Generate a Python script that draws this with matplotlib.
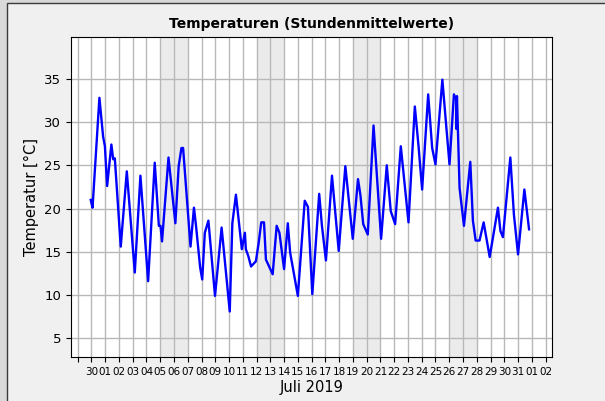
import numpy as np
import pandas as pd
import matplotlib
matplotlib.use("Agg")
import matplotlib.pyplot as plt
from matplotlib.patches import Rectangle


# Stuetzpunkte der Kurve: Tage seit 29.06.2019 00:00 und Temperatur in °C
tage = [0.95, 1.08, 1.58, 1.85, 1.98, 2.14, 2.45, 2.58, 2.70, 3.13,
        3.57, 4.15, 4.56, 5.12, 5.60, 5.90, 6.02, 6.13, 6.60, 7.10,
        7.34, 7.54, 7.66, 8.20, 8.45, 8.60, 8.90, 9.05, 9.24, 9.50,
        9.98, 10.46, 11.05, 11.24, 11.50, 11.80, 11.93, 12.15, 12.22, 12.40,
        12.60, 12.95, 13.15, 13.34, 13.54, 13.68, 14.17, 14.46, 14.66, 15.00,
        15.27, 15.44, 16.00, 16.50, 16.73, 17.05, 17.55, 17.75, 18.04, 18.48,
        18.97, 19.45, 19.99, 20.37, 20.55, 20.75, 21.08, 21.50, 22.05, 22.46,
        22.75, 23.07, 23.48, 24.04, 24.50, 24.77, 25.03, 25.47, 25.76, 26.00,
        26.50, 26.80, 27.02, 27.34, 27.50, 27.52, 27.56, 27.75, 28.07, 28.53,
        28.72, 28.92, 29.20, 29.50, 29.94, 30.54, 30.72, 30.90, 31.44, 31.70,
        32.00, 32.46, 32.80]
temp = [21.0, 20.1, 32.8, 28.3, 27.2, 22.6, 27.4, 25.7, 25.8, 15.6,
        24.3, 12.6, 23.8, 11.6, 25.3, 18.0, 18.0, 16.2, 25.9, 18.3,
        24.9, 27.0, 27.0, 15.6, 20.1, 18.0, 13.2, 11.8, 17.2, 18.6,
        9.9, 17.8, 8.1, 18.3, 21.6, 17.2, 15.3, 17.2, 15.3, 14.5,
        13.3, 13.9, 16.0, 18.4, 18.4, 14.1, 12.4, 18.0, 17.2, 13.0,
        18.3, 14.9, 9.9, 20.9, 20.2, 10.1, 21.7, 18.0, 14.0, 23.8,
        15.1, 24.9, 16.5, 23.4, 21.5, 18.2, 17.0, 29.6, 16.5, 25.0,
        19.7, 18.2, 27.2, 18.4, 31.8, 27.2, 22.2, 33.2, 27.0, 25.1,
        34.9, 29.2, 25.1, 33.2, 32.6, 29.2, 33.0, 22.4, 18.0, 25.4,
        18.6, 16.3, 16.3, 18.4, 14.4, 20.1, 17.4, 16.7, 25.9, 19.3,
        14.7, 22.2, 17.6]

# grau hinterlegte Bereiche (Tage seit 29.06.)
wochenenden = [(6, 8), (13, 15), (20, 22), (27, 29)]

# Tick-Beschriftungen der x-Achse (29.06. bis 02.08.)
tick_labels = [""] + ["30"] + ["%02d" % d for d in range(1, 32)] + ["01", "02"]
y_ticks = [5, 10, 15, 20, 25, 30, 35]

start = pd.Timestamp("2019-06-29")
zeit = start + pd.to_timedelta(tage, unit="D")
tick_pos = start + pd.to_timedelta(np.arange(len(tick_labels)), unit="D")

plt.rcParams.update({
    'font.family': 'DejaVu Sans',
    'axes.titlesize': 10,
    'axes.labelsize': 10.5,
})

fig = plt.figure(figsize=(6.05, 4.01), dpi=100)
fig.patch.set_facecolor('#d9d9d9')
# Fensterrahmen
fig.patches.append(Rectangle((7 / 605, -0.1), 1.2, 1.1 - 3 / 401,
                             transform=fig.transFigure, facecolor='#f0f0f0',
                             edgecolor='#3a3a3a', linewidth=1.0, zorder=-10))

ax = fig.add_axes([0.117, 0.109, 0.795, 0.798])
ax.set_facecolor('white')

for a, b in wochenenden:
    ax.axvspan(start + pd.Timedelta(days=a), start + pd.Timedelta(days=b),
               color='#ebebeb', linewidth=0, zorder=0)

ax.plot(zeit, temp, color='blue', linewidth=1.7, zorder=3)

ax.set_xticks(tick_pos)
ax.set_xticklabels(tick_labels, fontsize=7.5)
ax.set_yticks(y_ticks)
ax.tick_params(axis='y', labelsize=9.5)
ax.set_xlim(start - pd.Timedelta(days=0.5), start + pd.Timedelta(days=34.45))
ax.set_ylim(2.8, 39.8)
ax.grid(True, color='#b8b8b8', linewidth=1.0, zorder=1)
ax.set_axisbelow(True)

ax.set_title("Temperaturen (Stundenmittelwerte)", fontweight='bold', pad=7)
ax.set_xlabel("Juli 2019", labelpad=2)
ax.set_ylabel("Temperatur [°C]")

fig.savefig("out.png", dpi=100, facecolor=fig.get_facecolor())
